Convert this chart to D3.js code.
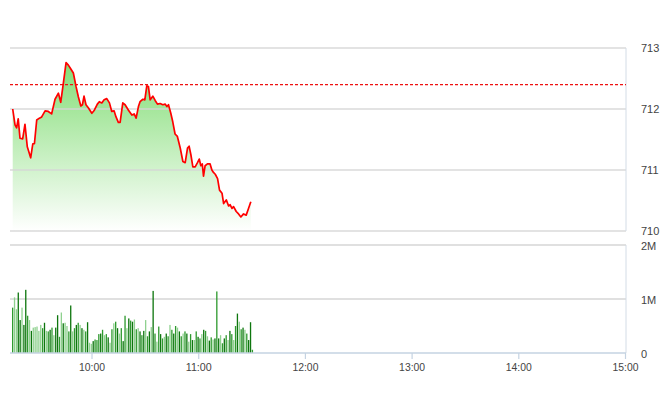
<!DOCTYPE html>
<html><head><meta charset="utf-8">
<script src="https://cdn.jsdelivr.net/npm/d3@7"></script>
<style>html,body{margin:0;padding:0;background:#fff;}svg{display:block;}</style>
</head><body><svg id="c" width="660" height="412"></svg>
<script>
// ---- data ----
const priceMinutes = [15.4,16.7,17.6,18.5,19.5,21.0,22.3,23.6,25.5,26.7,27.6,28.9,30.4,31.7,33.6,35.4,37.3,39.2,41.1,42.4,43.9,45.4,46.7,48.0,49.5,51.0,52.3,53.7,54.6,55.5,56.6,57.9,59.9,61.3,63.0,64.1,65.5,66.8,68.3,69.8,71.1,72.4,73.5,74.8,75.8,77.3,78.6,80.5,82.4,83.7,84.8,86.1,87.0,88.6,89.7,90.8,91.7,92.7,94.2,95.5,96.8,98.3,99.8,101.1,102.1,103.0,104.3,105.4,106.7,108.0,109.6,111.1,112.4,113.7,114.6,115.6,116.7,118.0,119.3,120.3,121.2,122.0,122.7,123.6,124.9,126.4,127.4,128.3,129.3,130.6,131.7,133.1,134.0,135.5,136.8,137.7,138.7,139.6,141.1,142.4,143.7,145.2,146.7,148.0,149.3];
const prices = [712.00,711.74,711.69,711.84,711.52,711.51,711.75,711.38,711.20,711.43,711.43,711.82,711.85,711.87,711.97,711.96,711.92,712.16,712.26,712.11,712.43,712.76,712.72,712.66,712.59,712.37,712.20,712.05,712.07,712.21,712.07,712.02,711.93,711.98,712.08,712.12,712.10,712.15,712.17,712.10,711.96,711.97,711.87,711.78,711.78,712.10,712.07,711.98,711.90,711.92,711.85,712.04,712.12,712.16,712.15,712.38,712.37,712.15,712.21,712.14,712.08,712.09,712.07,712.08,712.04,712.07,711.93,711.79,711.59,711.55,711.36,711.14,711.12,711.36,711.39,711.25,711.05,711.05,711.12,711.18,711.07,711.10,710.90,711.07,711.10,711.10,711.00,710.96,710.93,710.86,710.67,710.62,710.45,710.51,710.41,710.43,710.37,710.40,710.32,710.28,710.23,710.28,710.26,710.37,710.48];
const referencePrice = 712.40;
const volumes = [0.84,1.03,0.81,1.12,0.61,0.84,0.52,1.17,0.69,0.61,0.41,0.47,0.48,0.49,0.41,0.52,0.46,0.56,0.41,0.40,0.43,0.47,0.33,0.47,0.70,0.30,0.75,0.55,0.56,0.50,0.40,0.88,0.40,0.46,0.52,0.56,0.52,0.46,0.43,0.40,0.57,0.19,0.17,0.22,0.25,0.24,0.35,0.36,0.43,0.33,0.35,0.29,0.19,0.44,0.55,0.58,0.46,0.36,0.46,0.22,0.69,0.46,0.64,0.60,0.58,0.62,0.44,0.46,0.40,0.33,0.41,0.61,0.31,0.40,0.48,1.15,0.36,0.21,0.49,0.35,0.27,0.30,0.36,0.31,0.52,0.43,0.36,0.50,0.47,0.40,0.31,0.36,0.40,0.36,0.21,0.35,0.24,0.24,0.40,0.30,0.27,0.35,0.43,0.41,0.31,0.23,0.29,0.25,0.27,1.14,0.27,0.33,0.18,0.27,0.33,0.24,0.41,0.35,0.24,0.50,0.73,0.58,0.44,0.47,0.43,0.36,0.24,0.57,0.06];
const volumeShades = "MLLDDLDDMLDLLLLLMDLMDMLDDMLDLLMD" + "LMDMLDLMDLLDMMMDMLMDLMLMDLMDMLDMDLMLDMDLMDLDMLMDMLDMLMDMLDMLMDLMDLMDMLDMLDMLDMDLMDMLDMLMDLMDLMDDM";
const timeTicks = ["10:00","11:00","12:00","13:00","14:00","15:00"];
const priceTicks = [710,711,712,713];
const volumeTicks = [0,1,2];
const volumeTickLabels = ["0","1M","2M"];

// ---- drawing ----
const svg = d3.select("#c");
const day = m => new Date(2020,0,1,9,0,0,0).getTime() + m*60000;
const parseT = s => { const [h,mm] = s.split(":").map(Number); return new Date(2020,0,1,h,mm); };
const x = d3.scaleTime().domain([parseT("09:15"), parseT("15:00")]).range([12, 625.5]);
const y = d3.scaleLinear().domain([710,713]).range([231,48]);
const yv = d3.scaleLinear().domain([0,2]).range([353,245]);
const left = 10, right = 626;
const data = priceMinutes.map((m,i)=>({t:new Date(day(m)), v:prices[i]}));

const defs = svg.append("defs");
const g = defs.append("linearGradient").attr("id","ag").attr("gradientUnits","userSpaceOnUse")
  .attr("x1",0).attr("x2",0).attr("y1",y(713)).attr("y2",y(710));
g.append("stop").attr("offset","0").attr("stop-color","#78da6a");
g.append("stop").attr("offset","1").attr("stop-color","#ffffff");

// area
svg.append("path").datum(data)
  .attr("d", d3.area().x(d=>x(d.t)).y0(y(710)).y1(d=>y(d.v)))
  .attr("fill","url(#ag)");

// price gridlines
svg.append("g").selectAll("line").data(priceTicks).join("line")
  .attr("x1",left).attr("x2",right).attr("y1",d=>y(d)).attr("y2",d=>y(d))
  .attr("stroke","#d6d6d6").attr("stroke-width",1.3).attr("opacity",0.9);
// right border top
svg.append("line").attr("x1",right).attr("x2",right).attr("y1",y(713)).attr("y2",y(710))
  .attr("stroke","#d3dce6").attr("stroke-width",1);

// reference line
svg.append("line").attr("x1",left).attr("x2",right).attr("y1",y(referencePrice)).attr("y2",y(referencePrice))
  .attr("stroke","#ee1111").attr("stroke-width",1.3).attr("stroke-dasharray","3,2");

// price line
svg.append("path").datum(data)
  .attr("d", d3.line().x(d=>x(d.t)).y(d=>y(d.v)))
  .attr("fill","none").attr("stroke","#ff0000").attr("stroke-width",1.7).attr("stroke-linejoin","round");

// price labels
svg.append("g").selectAll("text").data(priceTicks).join("text")
  .attr("x",641).attr("y",d=>y(d)).attr("dy","0.35em").text(d=>d)
  .attr("font-family","Liberation Sans, Arial, sans-serif").attr("font-size",11).attr("fill","#444");

// volume gridlines
svg.append("g").selectAll("line").data(volumeTicks.slice(1)).join("line")
  .attr("x1",left).attr("x2",right).attr("y1",d=>yv(d)).attr("y2",d=>yv(d))
  .attr("stroke","#d6d6d6").attr("stroke-width",1.3);
svg.append("line").attr("x1",right).attr("x2",right).attr("y1",yv(2)).attr("y2",yv(0))
  .attr("stroke","#d3dce6").attr("stroke-width",1);

// volume bars
const xb = d3.scaleBand().domain(d3.range(volumes.length))
  .range([x(parseT("09:15")), x(parseT("11:30"))+1]).paddingInner(0.3);
const shade = {D:"#0e760e", M:"#2f9a2f", L:"#8fd18f"};
svg.append("g").selectAll("rect").data(volumes).join("rect")
  .attr("x",(d,i)=>xb(i)).attr("width",xb.bandwidth())
  .attr("y",d=>yv(d)).attr("height",d=>yv(0)-yv(d))
  .attr("fill",(d,i)=>shade[volumeShades[i]||"M"]);

// volume labels
svg.append("g").selectAll("text").data(volumeTicks).join("text")
  .attr("x",641).attr("y",d=>yv(d)+1).attr("dy","0.35em").text((d,i)=>volumeTickLabels[i])
  .attr("font-family","Liberation Sans, Arial, sans-serif").attr("font-size",11).attr("fill","#444");

// time axis
const ax = svg.append("g").attr("transform",`translate(0,${yv(0)})`);
ax.append("line").attr("x1",left).attr("x2",right).attr("stroke","#c5d3e2").attr("stroke-width",1.3);
const tk = ax.selectAll("g.t").data(timeTicks).join("g").attr("class","t")
  .attr("transform",d=>`translate(${x(parseT(d))},0)`);
tk.append("line").attr("y1",0).attr("y2",6).attr("stroke","#c5d3e2").attr("stroke-width",1.2);
tk.append("text").attr("y",14).attr("dy","0.35em").attr("text-anchor","middle").text(d=>d)
  .attr("font-family","Liberation Sans, Arial, sans-serif").attr("font-size",11).attr("fill","#444")
  .attr("textLength",26).attr("lengthAdjust","spacingAndGlyphs");
</script></body></html>
